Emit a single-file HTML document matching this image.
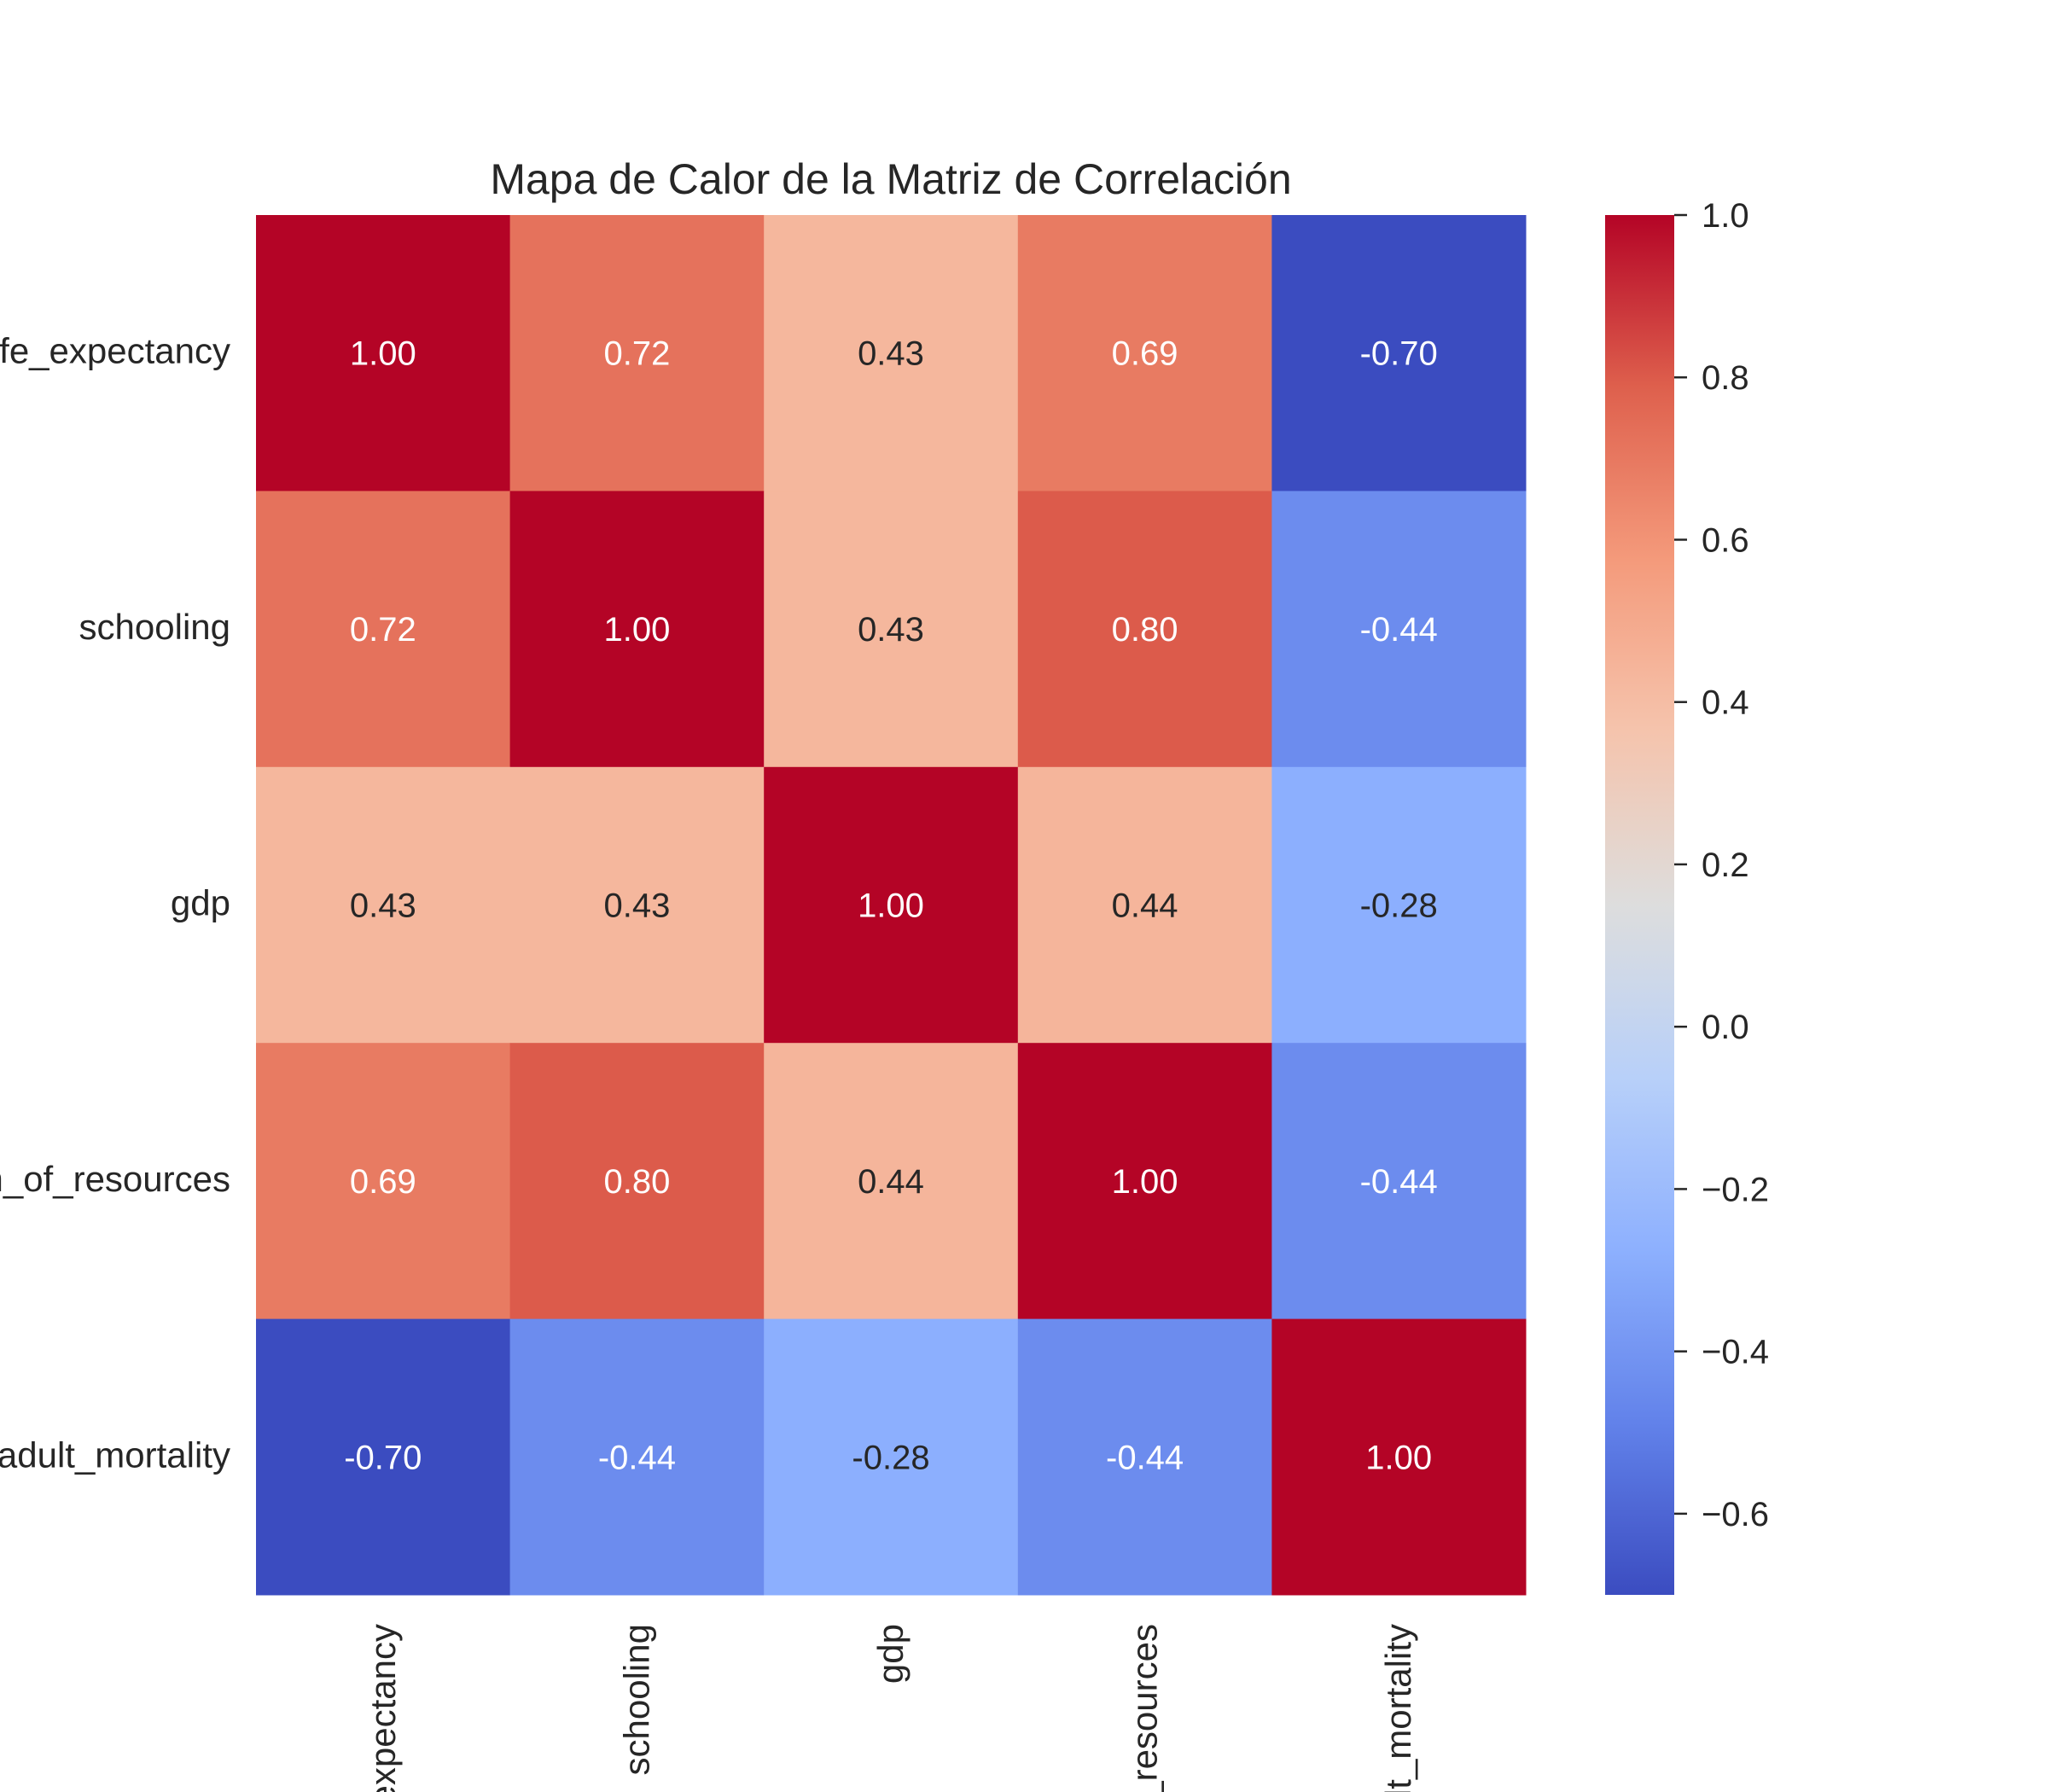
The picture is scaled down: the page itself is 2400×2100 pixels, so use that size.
<!DOCTYPE html>
<html><head><meta charset="utf-8"><style>
html,body{margin:0;padding:0;background:#fff;width:2400px;height:2100px;overflow:hidden;}
svg{display:block;font-family:"Liberation Sans",Arial,sans-serif;overflow:hidden;}
</style></head>
<body>
<svg id="chart" width="2400" height="2100" viewBox="0 0 2400 2100" xmlns="http://www.w3.org/2000/svg">
<defs><linearGradient id="cbgrad" x1="0" y1="1" x2="0" y2="0"></linearGradient>
<clipPath id="frameclip"><rect x="0" y="0" width="2400" height="2100"/></clipPath></defs>
<text x="1044" y="227" font-size="50" fill="#262626" text-anchor="middle">Mapa de Calor de la Matriz de Correlación</text>
<g id="cells"></g>
<g id="ylabels" clip-path="url(#frameclip)"></g>
<g id="xlabels" clip-path="url(#frameclip)"></g>
<rect x="1881" y="252" width="81" height="1617" fill="url(#cbgrad)"/>
<g id="cbticks"></g>
</svg>
<script>
const categories = ["life_expectancy","schooling","gdp","income_composition_of_resources","adult_mortality"];
const corrValues = [
  [1.00, 0.72, 0.43, 0.69, -0.70],
  [0.72, 1.00, 0.43, 0.80, -0.44],
  [0.43, 0.43, 1.00, 0.44, -0.28],
  [0.69, 0.80, 0.44, 1.00, -0.44],
  [-0.70, -0.44, -0.28, -0.44, 1.00]
];
const cbTicks = [-0.6,-0.4,-0.2,0.0,0.2,0.4,0.6,0.8,1.0];
const vmin = -0.70, vmax = 1.00;

const NS = "http://www.w3.org/2000/svg";
const X0 = 300, X1 = 1788, Y0 = 252, Y1 = 1869;
const n = categories.length;
const cw = (X1 - X0) / n, ch = (Y1 - Y0) / n;
const xPos = i => X0 + i * cw;
const yPos = i => Y0 + i * ch;
const cbY = v => Y1 - (v - vmin) / (vmax - vmin) * (Y1 - Y0);

const cmap = [[59,76,192],[98,130,234],[141,176,254],[184,208,249],[221,221,221],[245,196,173],[244,154,123],[222,96,77],[180,4,38]];
function coolwarm(t){
  t = Math.max(0, Math.min(1, t));
  const s = t * (cmap.length - 1), i = Math.min(cmap.length - 2, Math.floor(s)), f = s - i;
  return cmap[i].map((a, k) => Math.round(a + (cmap[i+1][k] - a) * f));
}
function mk(tag, attrs){ const e = document.createElementNS(NS, tag); for (const k in attrs) e.setAttribute(k, attrs[k]); return e; }

const cells = document.getElementById('cells');
for (let r = 0; r < n; r++) {
  for (let c = 0; c < n; c++) {
    const v = corrValues[r][c];
    const col = coolwarm((v - vmin) / (vmax - vmin));
    const rect = mk('rect', {x: xPos(c), y: yPos(r), width: cw + 0.5, height: ch + 0.5, fill: `rgb(${col.join(',')})`});
    
    
    cells.appendChild(rect);
    const lum = (0.299*col[0] + 0.587*col[1] + 0.114*col[2]) / 255;
    const t = mk('text', {x: xPos(c) + cw/2, y: yPos(r) + ch/2 + 14, 'font-size': 40, 'text-anchor': 'middle', fill: lum > 0.6 ? '#262626' : '#ffffff'});
    t.textContent = (v < 0 ? '-' : '') + Math.abs(v).toFixed(2);
    
    
    cells.appendChild(t);
  }
}
const yl = document.getElementById('ylabels');
const xl = document.getElementById('xlabels');
categories.forEach((name, i) => {
  const t = mk('text', {x: 270, y: yPos(i) + ch/2 + 12, 'font-size': 42, 'text-anchor': 'end', fill: '#262626'});
  t.textContent = name;
  
  
  yl.appendChild(t);
  const cx = xPos(i) + cw/2 + 14;
  const u = mk('text', {x: cx, y: 1903, 'font-size': 42, 'text-anchor': 'end', fill: '#262626', transform: `rotate(-90 ${cx} 1903)`});
  u.textContent = name;
  
  
  xl.appendChild(u);
});
const grad = document.getElementById('cbgrad');
for (let k = 0; k <= 32; k++) {
  const col = coolwarm(k / 32);
  grad.appendChild(mk('stop', {offset: (k/32*100) + '%', 'stop-color': `rgb(${col.join(',')})`}));
}
const cbt = document.getElementById('cbticks');
cbTicks.forEach(v => {
  const y = cbY(v);
  const l = mk('line', {x1: 1962, x2: 1977, y1: y, y2: y, stroke: '#262626', 'stroke-width': 2.5});
  
  
  cbt.appendChild(l);
  const t = mk('text', {x: 1994, y: y + 14, 'font-size': 40, fill: '#262626'});
  t.textContent = (v < 0 ? '\u2212' : '') + Math.abs(v).toFixed(1);
  
  
  cbt.appendChild(t);
});
</script>
</body></html>
